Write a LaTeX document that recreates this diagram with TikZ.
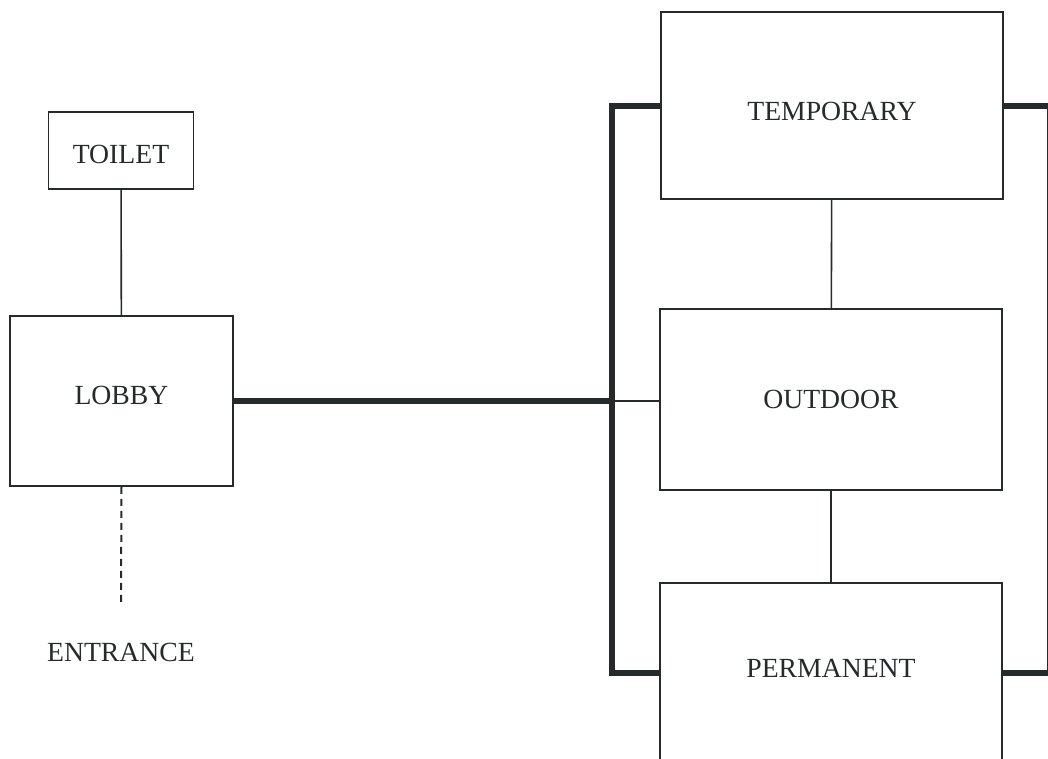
\documentclass[tikz,border=0pt]{standalone}
\usepackage{fontspec}
\setmainfont{Liberation Serif}
\begin{document}
\definecolor{ink}{RGB}{38,42,42}
\begin{tikzpicture}[x=1pt,y=-1pt,
  room/.style={draw=ink, line width=1.6pt, fill=none, inner sep=0pt,
    font=\fontsize{27.7}{33}\selectfont, text=ink},
  label/.style={inner sep=0pt, font=\fontsize{27.7}{33}\selectfont, text=ink},
  link/.style={draw=ink, line width=1.6pt},
  mainlink/.style={draw=ink, line width=6.5pt, line join=miter, line cap=butt},
  entry/.style={draw=ink, line width=2pt, dash pattern=on 7pt off 5pt}]
\useasboundingbox (0,0) rectangle (1048,759);

% rooms on the left
\node[room, minimum width=145, minimum height=77, text height=26pt, text depth=0pt] (toilet) at (121,150.5) {TOILET};
\node[room, minimum width=223, minimum height=170, text height=18pt, text depth=11pt] (lobby) at (121.5,401) {LOBBY};
\node[label] (entrance) at (121,652) {ENTRANCE};

% galleries on the right
\node[room, minimum width=342, minimum height=187, text height=30pt, text depth=0pt] (temporary) at (832,105.5) {TEMPORARY};
\node[room, minimum width=342, minimum height=181] (outdoor) at (831,399.5) {OUTDOOR};
\node[label] (permanent) at (831,668) {PERMANENT};
\coordinate (permtop) at (831,583);
\draw[link] (660,775) -- (660,583) -- (1002,583) -- (1002,775);

% thin connections
\draw[link] (toilet) -- (lobby);
\draw[link] (temporary) -- (outdoor);
\draw[link] (outdoor) -- (permtop);
\draw[entry] (lobby.south) -- (121,606);

% main circulation spine
\coordinate (spinetop) at (612,106);
\coordinate (spinemid) at (612,401);
\coordinate (spinebot) at (612,673);
\draw[mainlink] (lobby.east |- spinemid) -- (spinemid);
\draw[mainlink] (temporary.west |- spinetop) -- (spinetop) -- (spinebot) -- (660,673);
\draw[link] (spinemid) -- (outdoor.west |- spinemid);
\draw[mainlink] (temporary.east |- spinetop) -- (1050,106) -- (1050,673) -- (1002,673);
\end{tikzpicture}
\end{document}
